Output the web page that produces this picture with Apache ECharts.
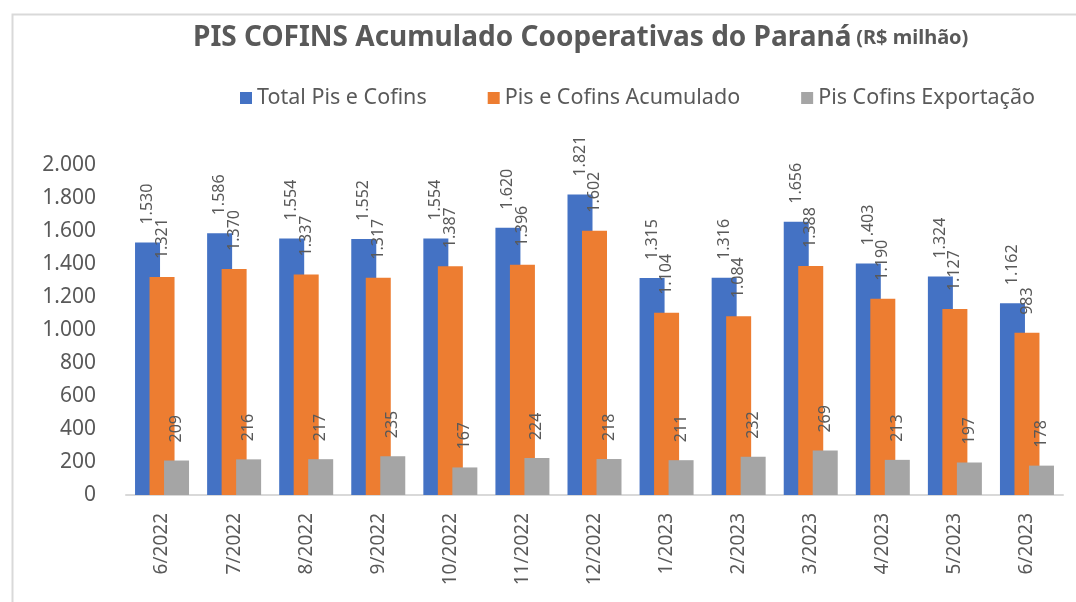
<!DOCTYPE html>
<html>
<head>
<meta charset="utf-8">
<script src="https://cdn.jsdelivr.net/npm/echarts@6/dist/echarts.min.js"></script>
<style>
  html, body { margin: 0; padding: 0; background: #fff; }
  #chart { width: 1076px; height: 602px; }
</style>
</head>
<body>
<div id="chart"></div>
<script>
const meses = ['6/2022', '7/2022', '8/2022', '9/2022', '10/2022', '11/2022', '12/2022',
    '1/2023', '2/2023', '3/2023', '4/2023', '5/2023', '6/2023'];
const totalPisCofins = [1530, 1586, 1554, 1552, 1554, 1620, 1821, 1315, 1316, 1656, 1403, 1324, 1162];
const pisCofinsAcumulado = [1321, 1370, 1337, 1317, 1387, 1396, 1602, 1104, 1084, 1388, 1190, 1127, 983];
const pisCofinsExportacao = [209, 216, 217, 235, 167, 224, 218, 211, 232, 269, 213, 197, 178];

const fonte = '"Noto Sans", sans-serif';
const cinza = '#595959';

// separador de milhar com ponto
const fmt = v => String(v).replace(/\B(?=(\d{3})+(?!\d))/g, '.');

const rotulo = {
    show: true,
    position: 'top',
    rotate: 90,
    align: 'left',
    verticalAlign: 'middle',
    distance: 18,
    color: cinza,
    fontFamily: fonte,
    fontSize: 16,
    formatter: p => fmt(p.value)
};

function serie(nome, dados, cor) {
    return {
        name: nome,
        type: 'bar',
        data: dados,
        barWidth: 25,
        barGap: '-42%',
        itemStyle: { color: cor },
        label: rotulo
    };
}

const myChart = echarts.init(document.getElementById('chart'));
const option = {
    animation: false,
    textStyle: { fontFamily: fonte },
    graphic: [{
        type: 'rect',
        shape: { x: 12.5, y: 14.5, width: 1100, height: 700 },
        style: { fill: 'none', stroke: '#d9d9d9', lineWidth: 2 },
        silent: true
    }],
    title: {
        text: '{a|PIS COFINS Acumulado Cooperativas do Paraná} {b|(R$ milhão)}',
        left: 188,
        top: 19,
        textStyle: {
            rich: {
                a: { fontFamily: fonte, fontSize: 28, fontWeight: 'bold', color: cinza },
                b: { fontFamily: fonte, fontSize: 20, fontWeight: 'bold', color: cinza }
            }
        }
    },
    legend: {
        top: 82,
        left: 235,
        itemWidth: 12,
        itemHeight: 12,
        itemGap: 61,
        icon: 'rect',
        textStyle: { color: cinza, fontFamily: fonte, fontSize: 21.5 },
        data: ['Total Pis e Cofins', 'Pis e Cofins Acumulado', 'Pis Cofins Exportação']
    },
    grid: { left: 126, right: 13, top: 165, height: 330, containLabel: false },
    xAxis: {
        type: 'category',
        data: meses,
        axisLine: { lineStyle: { color: '#d9d9d9', width: 2 } },
        axisTick: { show: false },
        axisLabel: {
            rotate: 90,
            margin: 18,
            color: cinza,
            fontFamily: fonte,
            fontSize: 19
        }
    },
    yAxis: {
        type: 'value',
        min: 0,
        max: 2000,
        interval: 200,
        splitLine: { show: false },
        axisLine: { show: false },
        axisTick: { show: false },
        axisLabel: {
            margin: 30,
            color: cinza,
            fontFamily: fonte,
            fontSize: 21,
            formatter: v => fmt(v)
        }
    },
    series: [
        serie('Total Pis e Cofins', totalPisCofins, '#4472C4'),
        serie('Pis e Cofins Acumulado', pisCofinsAcumulado, '#ED7D31'),
        serie('Pis Cofins Exportação', pisCofinsExportacao, '#A5A5A5')
    ]
};
myChart.setOption(option);
window.addEventListener('resize', () => myChart.resize());
</script>
</body>
</html>
